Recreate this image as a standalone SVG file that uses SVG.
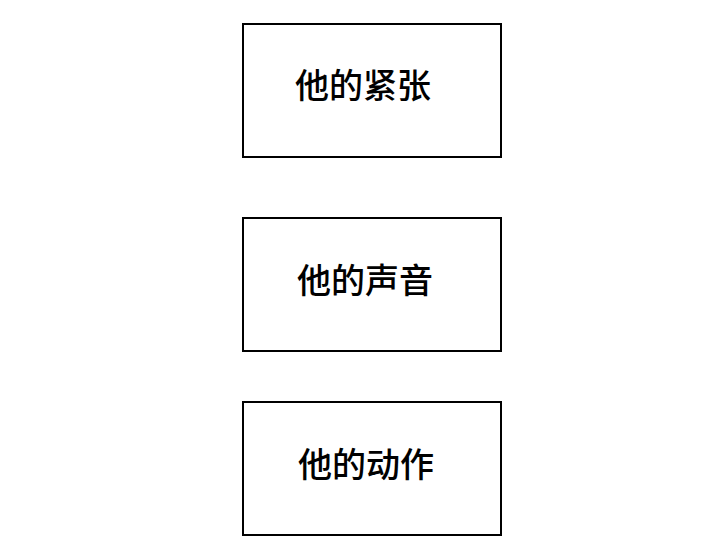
<svg xmlns="http://www.w3.org/2000/svg" width="720" height="547" viewBox="0 0 720 547">
<style>
.box{fill:#fff;stroke:#000;stroke-width:2}
.lbl{font-family:"Noto Sans CJK SC","Noto Sans",sans-serif;font-size:34px;font-weight:500;fill:#000;dominant-baseline:central}
</style>
<rect width="720" height="547" fill="#fff"/>
<g id="node1"><rect class="box" x="243" y="24" width="258" height="133"/><text class="lbl" x="295" y="83">他的紧张</text></g>
<g id="node2"><rect class="box" x="243" y="218" width="258" height="133"/><text class="lbl" x="297" y="278">他的声音</text></g>
<g id="node3"><rect class="box" x="243" y="402" width="258" height="133"/><text class="lbl" x="298" y="462">他的动作</text></g>
<g id="connectors"></g>
</svg>
